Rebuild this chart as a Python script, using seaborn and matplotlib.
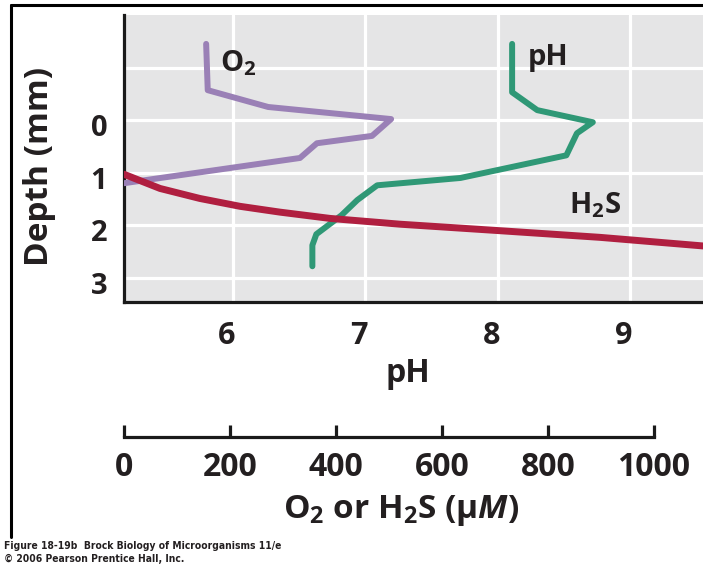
import matplotlib
matplotlib.use('Agg')
import matplotlib.pyplot as plt
import matplotlib.transforms as mtransforms
from matplotlib.lines import Line2D
import seaborn as sns

# 数据
o2_conc = [155, 158, 272, 504, 468, 364, 332, 0]
o2_depth = [-1.45, -0.57, -0.25, -0.02, 0.30, 0.44, 0.72, 1.20]

ph_value = [8.11, 8.11, 8.30, 8.72, 8.60, 8.52, 7.72, 7.09, 6.94, 6.82, 6.63, 6.60, 6.60]
ph_depth = [-1.45, -0.53, -0.19, 0.04, 0.25, 0.67, 1.10, 1.24, 1.52, 1.81, 2.17, 2.38, 2.78]

h2s_conc = [0, 68, 143, 219, 294, 389, 521, 704, 898, 1100]
h2s_depth = [1.03, 1.30, 1.49, 1.64, 1.75, 1.87, 1.98, 2.10, 2.23, 2.40]

ph_ticks = [6, 7, 8, 9]
depth_ticks = [-1, 0, 1, 2, 3]
depth_labels = ['', '0', '1', '2', '3']
conc_ticks = [0, 200, 400, 600, 800, 1000]

sns.set_theme(style='white')
plt.rcParams['font.family'] = ['Open Sans', 'DejaVu Sans']
plt.rcParams['font.weight'] = 'bold'
plt.rcParams['mathtext.fontset'] = 'custom'
plt.rcParams['mathtext.rm'] = 'Open Sans:bold'
plt.rcParams['mathtext.bf'] = 'Open Sans:bold'
plt.rcParams['mathtext.it'] = 'Open Sans:italic:bold'

txt = '#231f20'
purple = '#9a80b6'
green = '#2f9876'
red = '#b01f40'

fig = plt.figure(figsize=(7.03, 5.66), dpi=100)
ax = fig.add_axes([124 / 703, 1 - 302 / 566, 579 / 703, 287 / 566])
ax.set_facecolor('#e5e5e6')

# pH 曲线
sns.lineplot(x=ph_value, y=ph_depth, sort=False, estimator=None, orient='y',
             color=green, lw=4.3, ax=ax)
ax.set_xlim(5.176, 9.553)
ax.set_ylim(3.46, -2.0)
ax.set_xticks(ph_ticks)
ax.set_yticks(depth_ticks)
ax.set_yticklabels(depth_labels)
ax.grid(True, color='white', lw=2.3)
ax.set_axisbelow(True)
for s in ['top', 'right']:
    ax.spines[s].set_visible(False)
for s in ['left', 'bottom']:
    ax.spines[s].set_color('#1a1a1a')
    ax.spines[s].set_linewidth(2.3)
ax.tick_params(axis='x', length=0, pad=14, labelsize=22, labelcolor=txt)
ax.tick_params(axis='y', length=0, pad=12, labelsize=21, labelcolor=txt)
ax.set_xlabel('pH', fontsize=23, color=txt, fontweight='bold')
ax.xaxis.set_label_coords(0.49, -0.19)
ax.set_ylabel('Depth (mm)', fontsize=24, color=txt, fontweight='bold')
ax.yaxis.set_label_coords(-0.118, 0.474)

# 刻度标签微调
dx = mtransforms.ScaledTranslation(-6 / 100, 0, fig.dpi_scale_trans)
for lab in ax.get_xticklabels():
    lab.set_transform(lab.get_transform() + dx)
dy = mtransforms.ScaledTranslation(0, -5 / 100, fig.dpi_scale_trans)
for lab in ax.get_yticklabels():
    lab.set_transform(lab.get_transform() + dy)

# O2 / H2S 浓度轴
ax2 = ax.twiny()
sns.lineplot(x=o2_conc, y=o2_depth, sort=False, estimator=None, orient='y',
             color=purple, lw=4.3, ax=ax2)
sns.lineplot(x=h2s_conc, y=h2s_depth, sort=False, estimator=None, orient='y',
             color=red, lw=5, ax=ax2)
ax2.set_xlim(0, 1092.5)
ax2.set_ylim(3.46, -2.0)
ax2.set_xticks(conc_ticks)
ax2.xaxis.set_ticks_position('bottom')
ax2.xaxis.set_label_position('bottom')
for s in ['top', 'right', 'left']:
    ax2.spines[s].set_visible(False)
ax2.spines['bottom'].set_visible(True)
ax2.spines['bottom'].set_position(('outward', 97))
ax2.spines['bottom'].set_bounds(0, 1000)
ax2.spines['bottom'].set_color('#1a1a1a')
ax2.spines['bottom'].set_linewidth(2.3)
ax2.tick_params(axis='x', direction='in', length=9, width=2.3, color='#1a1a1a',
                pad=10, labelsize=23, labelcolor=txt)
ax2.set_xlabel(r'O$_2$ or H$_2$S (μ$\mathit{M}$)', fontsize=24, color=txt,
               fontweight='bold')
ax2.xaxis.set_label_coords(0.478, -0.665)
ax2.set_ylabel('')

# 曲线标注
ax2.text(181, -0.93, r'O$_2$', fontsize=21, color=txt, fontweight='bold',
         ha='left', va='baseline')
ax.text(8.23, -1.05, 'pH', fontsize=21, color=txt, fontweight='bold',
        ha='left', va='baseline')
ax2.text(840, 1.77, r'H$_2$S', fontsize=21, color=txt, fontweight='bold',
         ha='left', va='baseline')

# 外框
fig.add_artist(Line2D([11 / 703, 1.0], [1 - 4.5 / 566, 1 - 4.5 / 566],
                      transform=fig.transFigure, color='black', lw=2.2))
fig.add_artist(Line2D([11 / 703, 11 / 703], [1 - 4.5 / 566, 1 - 537 / 566],
                      transform=fig.transFigure, color='black', lw=2.2))

# 图注
cap_font = ['Liberation Sans Narrow', 'DejaVu Sans']
fig.text(4 / 703, 1 - 549 / 566, 'Figure 18-19b  Brock Biology of Microorganisms 11/e',
         fontsize=7.4, family=cap_font, fontweight='bold', fontstretch='condensed',
         color=txt, va='baseline')
fig.text(4 / 703, 1 - 562 / 566, '© 2006 Pearson Prentice Hall, Inc.',
         fontsize=7.4, family=cap_font, fontweight='bold', fontstretch='condensed',
         color=txt, va='baseline')

fig.savefig('out.png', dpi=100)
